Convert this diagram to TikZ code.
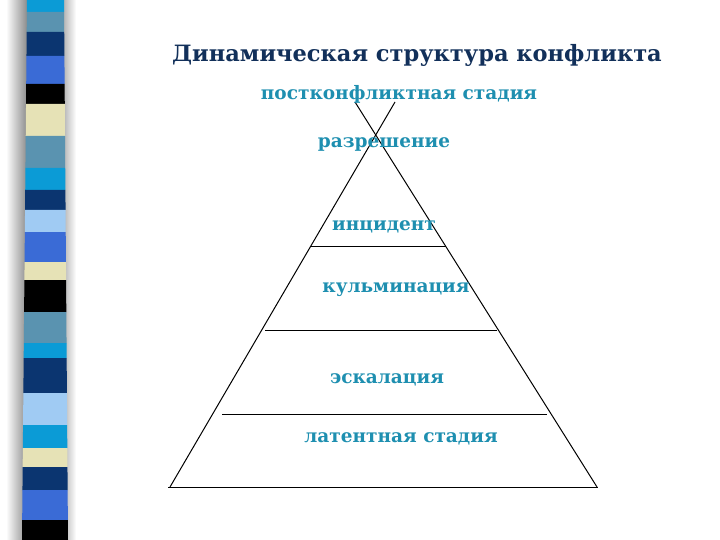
\documentclass[tikz,border=0pt]{standalone}
\usepackage{fontspec}
\setmainfont{DejaVu Serif}
% Colores
\definecolor{titulo}{HTML}{12305A}
\definecolor{etapa}{HTML}{1E8FB0}
\definecolor{cian}{HTML}{0B9BD6}
\definecolor{acero}{HTML}{5A93B0}
\definecolor{marino}{HTML}{0B3570}
\definecolor{real}{HTML}{3A6BD6}
\definecolor{crema}{HTML}{E6E2B6}
\definecolor{celeste}{HTML}{A0CBF3}
\tikzset{
  etapa/.style={anchor=base, text=etapa, font=\fontsize{18.5}{22}\selectfont\bfseries},
  titulo/.style={anchor=base, text=titulo, font=\fontsize{22.5}{27}\selectfont\bfseries},
  linea/.style={line width=1pt}
}
\begin{document}
\begin{tikzpicture}[x=1pt,y=-1pt]
        \useasboundingbox (0,0) rectangle (720,540);
        % Franja lateral
        \shade[left color=white, right color=black!45] (6,0) rectangle (27,540);
        \shade[left color=black!30, right color=white] (63,0) rectangle (76,540);
        \foreach \ya/\yb/\c in {0/12/cian, 12/32/acero, 32/56/marino, 56/84/real,
            84/104/black, 104/136/crema, 136/168/acero, 168/190/cian, 190/210/marino,
            210/232/celeste, 232/262/real, 262/280/crema, 280/312/black, 312/343/acero,
            343/358/cian, 358/393/marino, 393/425/celeste, 425/448/cian, 448/467/crema,
            467/490/marino, 490/520/real, 520/540/black}
            \fill[\c] ({27-5*\ya/540},\ya) -- ({64+4*\ya/540},\ya)
                -- ({64+4*\yb/540},\yb) -- ({27-5*\yb/540},\yb) -- cycle;
        % Titulo
        \node[titulo] (tit) at (417,62) {Динамическая структура конфликта};
        % Lados de la piramide
        \coordinate (izqA) at (395,102);
        \coordinate (izqB) at (170,487);
        \coordinate (derA) at (355,102);
        \coordinate (derB) at (597,487);
        \draw[linea] (izqA) -- (izqB);
        \draw[linea] (derA) -- (derB);
        % Lineas horizontales
        \draw[linea] (311,246) -- (446,246);
        \draw[linea] (265,330) -- (497,330);
        \draw[linea] (222,414) -- (547,414);
        \draw[linea] (168,487) -- (598,487);
        % Etapas
        \node[etapa] (post) at (399,100) {постконфликтная стадия};
        \node[etapa] (razr) at (384,148) {разрешение};
        \node[etapa] (inc) at (384,230) {инцидент};
        \node[etapa] (kulm) at (396,292) {кульминация};
        \node[etapa] (eskal) at (387,383) {эскалация};
        \node[etapa] (lat) at (401,442) {латентная стадия};
\end{tikzpicture}
\end{document}
